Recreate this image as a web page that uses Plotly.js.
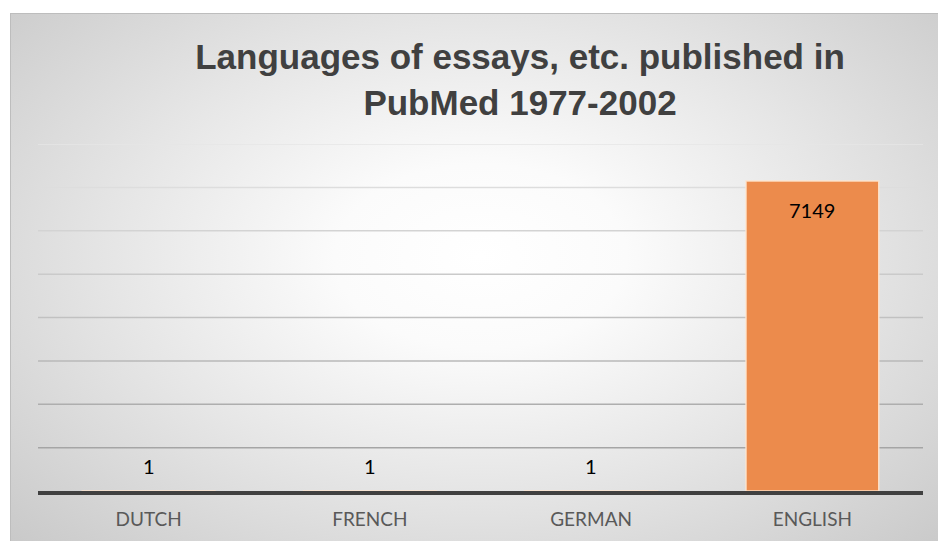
<!DOCTYPE html>
<html>
<head>
<meta charset="utf-8">
<script src="https://cdn.plot.ly/plotly-3.0.1.min.js"></script>
<style>
  html, body { margin: 0; padding: 0; background: #ffffff; }
  #wrap { position: relative; width: 938px; height: 541px; overflow: hidden; }
  #bg {
    position: absolute; left: 10px; top: 13px; width: 940px; height: 540px;
    box-sizing: border-box;
    border-top: 1px solid #bdbdbd; border-left: 1px solid #bdbdbd;
    background: radial-gradient(ellipse farthest-corner at 50% 45%, #ffffff 0%, #fbfbfb 22%, #e6e6e6 55%, #c8c8c8 100%);
  }
  #chart { position: absolute; left: 0; top: 0; width: 938px; height: 541px; }
</style>
</head>
<body>
<div id="wrap">
  <div id="bg"></div>
  <div id="chart"></div>
</div>
<script>
const categories = ["DUTCH", "FRENCH", "GERMAN", "ENGLISH"];
const counts = [1, 1, 1, 7149];
const gridValues = [1000, 2000, 3000, 4000, 5000, 6000, 7000, 8000];
const titleText = "Languages of essays, etc. published in<br>PubMed 1977-2002";

const trace = {
  type: "bar",
  x: categories,
  y: counts,
  marker: {
    color: "#ec8b4c",
    line: { color: "rgba(255,228,205,0.9)", width: 1.5 }
  },
  hoverinfo: "x+y"
};

// gridlines darken toward the bottom
const shapes = gridValues.map((v, i) => {
  const t = i / (gridValues.length - 1); // 0 bottom .. 1 top
  const g = Math.round(165 + t * (230 - 165));
  return {
    type: "line", xref: "paper", yref: "y", x0: 0, x1: 1, y0: v, y1: v,
    line: { color: `rgb(${g},${g},${g})`, width: 1.5 }, layer: "below"
  };
});

const annotations = categories.map((c, i) => {
  const big = counts[i] > 1000;
  return {
    x: c, y: counts[i], xref: "x", yref: "y",
    text: String(counts[i]),
    showarrow: false,
    yanchor: big ? "top" : "bottom",
    yshift: big ? -15 : 11,
    font: { family: "Lato, 'Open Sans', sans-serif", size: 20, color: "#000000" }
  };
});

const layout = {
  width: 938, height: 541,
  paper_bgcolor: "rgba(0,0,0,0)",
  plot_bgcolor: "rgba(0,0,0,0)",
  margin: { l: 38, r: 15, t: 144, b: 50 },
  bargap: 0.4,
  showlegend: false,
  title: {
    text: titleText,
    x: 520 / 938, xanchor: "center", xref: "container",
    y: 1 - 69 / 541, yanchor: "middle", yref: "container",
    font: { family: "'Liberation Sans', Arial, sans-serif", size: 35, color: "#404040", weight: "bold" }
  },
  xaxis: {
    type: "category",
    showgrid: false,
    showline: true, linecolor: "#404040", linewidth: 4,
    ticks: "",
    tickfont: { family: "Lato, 'Open Sans', sans-serif", size: 19, color: "#595959" },
    ticklabelstandoff: 8
  },
  yaxis: {
    range: [0, 8000],
    showgrid: false,
    showticklabels: false,
    zeroline: false,
    showline: false,
    ticks: ""
  },
  shapes: shapes,
  annotations: annotations
};

Plotly.newPlot("chart", [trace], layout, { displayModeBar: false, staticPlot: true });
</script>
</body>
</html>
